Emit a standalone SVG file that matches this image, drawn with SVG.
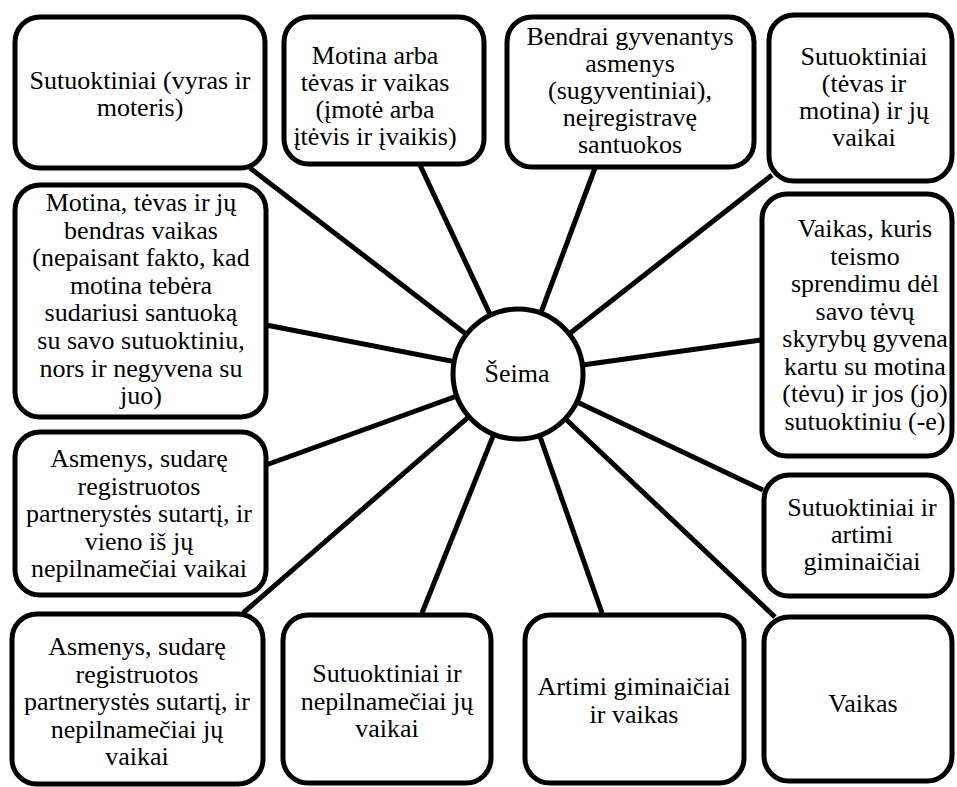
<svg xmlns="http://www.w3.org/2000/svg" width="957" height="787" viewBox="0 0 957 787">
<style>
.box{fill:#fff;stroke:#000;stroke-width:5}
.c{stroke:#000;stroke-width:5;fill:none}
text{font-family:'Liberation Serif',Tinos,'Times New Roman','DejaVu Serif',serif;font-size:26px;fill:#000;text-anchor:middle}
</style>
<rect width="957" height="787" fill="#fff"/>
<g id="connectors">
<line class="c" x1="250" y1="168" x2="518" y2="374"/>
<line class="c" x1="420" y1="165" x2="518" y2="374"/>
<line class="c" x1="595" y1="168" x2="518" y2="374"/>
<line class="c" x1="772" y1="175" x2="518" y2="374"/>
<line class="c" x1="266" y1="325" x2="518" y2="374"/>
<line class="c" x1="266" y1="465" x2="518" y2="374"/>
<line class="c" x1="243" y1="613" x2="518" y2="374"/>
<line class="c" x1="422" y1="613" x2="518" y2="374"/>
<line class="c" x1="602" y1="613" x2="518" y2="374"/>
<line class="c" x1="775" y1="617" x2="518" y2="374"/>
<line class="c" x1="763" y1="490" x2="518" y2="374"/>
<line class="c" x1="761" y1="340" x2="518" y2="374"/>
</g>
<g font-family="Liberation Serif, Times New Roman, serif">
<g id="center">
<circle class="box" cx="518" cy="374" r="65"/>
<text x="517" y="382">Šeima</text>
</g>
<g id="n1">
<rect class="box" x="15" y="17" width="250" height="151" rx="25"/>
<text x="140" y="89">Sutuoktiniai (vyras ir</text>
<text x="140" y="116">moteris)</text>
</g>
<g id="n2">
<rect class="box" x="284" y="17" width="200" height="147" rx="25"/>
<text x="375" y="64">Motina arba</text>
<text x="375" y="91">tėvas ir vaikas</text>
<text x="375" y="118">(įmotė arba</text>
<text x="375" y="145">įtėvis ir įvaikis)</text>
</g>
<g id="n3">
<rect class="box" x="507" y="17" width="247" height="150" rx="25"/>
<text x="630" y="45">Bendrai gyvenantys</text>
<text x="630" y="72">asmenys</text>
<text x="630" y="99">(sugyventiniai),</text>
<text x="630" y="126">neįregistravę</text>
<text x="630" y="153">santuokos</text>
</g>
<g id="n4">
<rect class="box" x="769" y="15" width="183" height="166" rx="25"/>
<text x="864" y="65">Sutuoktiniai</text>
<text x="864" y="92">(tėvas ir</text>
<text x="864" y="119">motina) ir jų</text>
<text x="864" y="146">vaikai</text>
</g>
<g id="n5">
<rect class="box" x="15" y="185" width="251" height="232" rx="25"/>
<text x="141" y="211">Motina, tėvas ir jų</text>
<text x="141" y="238.6">bendras vaikas</text>
<text x="141" y="266.2">(nepaisant fakto, kad</text>
<text x="141" y="293.8">motina tebėra</text>
<text x="141" y="321.4">sudariusi santuoką</text>
<text x="141" y="349">su savo sutuoktiniu,</text>
<text x="141" y="376.6">nors ir negyvena su</text>
<text x="141" y="404.2">juo)</text>
</g>
<g id="n6">
<rect class="box" x="15" y="432" width="251" height="163" rx="25"/>
<text x="139" y="467">Asmenys, sudarę</text>
<text x="139" y="494.5">registruotos</text>
<text x="139" y="522">partnerystės sutartį, ir</text>
<text x="139" y="549.5">vieno iš jų</text>
<text x="139" y="577">nepilnamečiai vaikai</text>
</g>
<g id="n7">
<rect class="box" x="12" y="614" width="251" height="170" rx="25"/>
<text x="137" y="655">Asmenys, sudarę</text>
<text x="137" y="682.5">registruotos</text>
<text x="137" y="710">partnerystės sutartį, ir</text>
<text x="137" y="737.5">nepilnamečiai jų</text>
<text x="137" y="765">vaikai</text>
</g>
<g id="n8">
<rect class="box" x="283" y="615" width="208" height="168" rx="25"/>
<text x="387" y="682">Sutuoktiniai ir</text>
<text x="387" y="709.5">nepilnamečiai jų</text>
<text x="387" y="737">vaikai</text>
</g>
<g id="n9">
<rect class="box" x="525" y="615" width="219" height="168" rx="25"/>
<text x="634" y="695">Artimi giminaičiai</text>
<text x="634" y="722.5">ir vaikas</text>
</g>
<g id="n10">
<rect class="box" x="764" y="617" width="188" height="164" rx="25"/>
<text x="863" y="712">Vaikas</text>
</g>
<g id="n11">
<rect class="box" x="764" y="475" width="188" height="121" rx="25"/>
<text x="862" y="516">Sutuoktiniai ir</text>
<text x="862" y="543">artimi</text>
<text x="862" y="570">giminaičiai</text>
</g>
<g id="n12">
<rect class="box" x="762" y="194" width="190" height="262" rx="25"/>
<text x="865" y="237">Vaikas, kuris</text>
<text x="865" y="264.5">teismo</text>
<text x="865" y="292">sprendimu dėl</text>
<text x="865" y="319.5">savo tėvų</text>
<text x="865" y="347">skyrybų gyvena</text>
<text x="865" y="374.5">kartu su motina</text>
<text x="865" y="402">(tėvu) ir jos (jo)</text>
<text x="865" y="429.5">sutuoktiniu (-e)</text>
</g>
</g>
</svg>
